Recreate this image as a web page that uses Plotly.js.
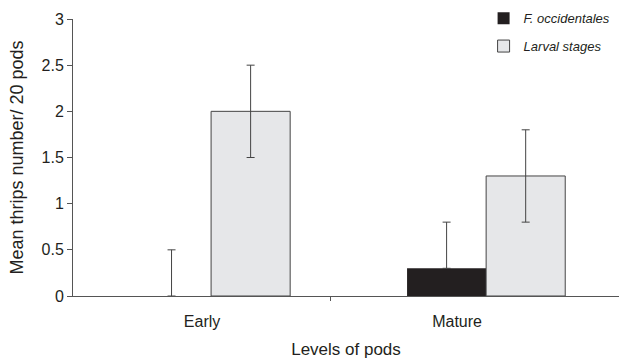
<!DOCTYPE html>
<html>
<head>
<meta charset="utf-8">
<script src="https://cdn.plot.ly/plotly-3.0.1.min.js"></script>
<style>html,body{margin:0;padding:0;background:#fff}#chart{width:619px;height:364px}</style>
</head>
<body>
<div id="chart"></div>
<script>
// Data
var categories = ['Early', 'Mature'];
var seriesNames = ['F. occidentales', 'Larval stages'];
var occidentalesMean = [0, 0.3];
var occidentalesErrPlus = [0.5, 0.5];
var occidentalesErrMinus = [0, 0];
var larvalMean = [2.0, 1.3];
var larvalErrPlus = [0.5, 0.5];
var larvalErrMinus = [0.5, 0.5];
var yTickVals = [0, 0.5, 1, 1.5, 2, 2.5, 3];
var yTickText = ['0', '0.5', '1', '1.5', '2', '2.5', '3'];

var groupPos = categories.map(function (c, i) { return i; });
var txtColor = '#231f20';
var lineColor = '#555555';

var traces = [
  {
    type: 'bar', name: '<i>' + seriesNames[0] + '</i>', x: groupPos, y: occidentalesMean,
    legendgroup: 'a',
    marker: {color: '#231f20', line: {color: '#231f20', width: 0}},
    error_y: {type: 'data', symmetric: false, array: occidentalesErrPlus, arrayminus: occidentalesErrMinus,
              color: '#444444', thickness: 1, width: 4}
  },
  {
    type: 'bar', name: '<i>' + seriesNames[1] + '</i>', x: groupPos, y: larvalMean,
    legendgroup: 'b',
    marker: {color: '#e6e7e9', line: {color: '#444444', width: 1}},
    error_y: {type: 'data', symmetric: false, array: larvalErrPlus, arrayminus: larvalErrMinus,
              color: '#444444', thickness: 1, width: 4}
  },
  {
    type: 'scatter', mode: 'markers', x: categories, y: [null, null],
    xaxis: 'x2', showlegend: false, hoverinfo: 'skip'
  }
];

var layout = {
  width: 619, height: 364,
  margin: {l: 73, r: 0, t: 19, b: 68},
  paper_bgcolor: '#ffffff', plot_bgcolor: '#ffffff',
  font: {family: 'Liberation Sans, Arial, sans-serif', color: txtColor, size: 16},
  barmode: 'group', bargap: 0.425, bargroupgap: 0,
  showlegend: true,
  legend: {x: 0.752, y: 1.057, xanchor: 'left', yanchor: 'top', bgcolor: 'rgba(0,0,0,0)',
           font: {size: 13, color: txtColor}, tracegroupgap: 8, traceorder: 'grouped'},
  xaxis: {
    type: 'linear', range: [-0.502, 1.483], showgrid: false, zeroline: false,
    showline: true, linecolor: lineColor, linewidth: 1,
    tickmode: 'array', tickvals: [0.433], ticktext: [''], ticks: 'outside', ticklen: 4,
    tickcolor: lineColor, showticklabels: false, fixedrange: true
  },
  xaxis2: {
    type: 'category', overlaying: 'x', anchor: 'y', range: [-0.506, 1.635],
    showgrid: false, zeroline: false, showline: false, ticks: '', ticklabelstandoff: 14,
    tickfont: {size: 16, color: txtColor}, automargin: false,
    title: {text: 'Levels of pods', font: {size: 17, color: txtColor}, standoff: 14}
  },
  yaxis: {
    range: [0, 3], tickmode: 'array', tickvals: yTickVals, ticktext: yTickText,
    showgrid: false, zeroline: false, showline: true, linecolor: lineColor, linewidth: 1,
    ticks: 'outside', ticklen: 5, tickcolor: lineColor, automargin: false,
    tickfont: {size: 16, color: txtColor},
    title: {text: 'Mean thrips number/ 20 pods', font: {size: 18, color: txtColor}, standoff: 13}
  }
};

Plotly.newPlot('chart', traces, layout, {displayModeBar: false, staticPlot: true});
</script>
</body>
</html>
